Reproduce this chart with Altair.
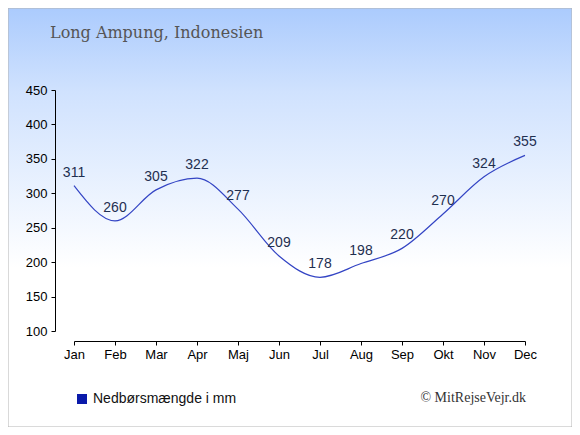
import altair as alt
import pandas as pd

months = ["Jan", "Feb", "Mar", "Apr", "Maj", "Jun", "Jul", "Aug", "Sep", "Okt", "Nov", "Dec"]
rain = [311, 260, 305, 322, 277, 209, 178, 198, 220, 270, 324, 355]
yticks = [100, 150, 200, 250, 300, 350, 400, 450]

df = pd.DataFrame({"month": months, "rain": rain})

W, H = 451, 241
PL, PT = 66, 82
TOTW, TOTH = 564, 419
PR = TOTW - PL - W
PB = TOTH - PT - H

x = alt.X("month:N", sort=months, scale=alt.Scale(type="point", padding=0),
          axis=alt.Axis(title=None, labelAngle=0, offset=10, tickSize=4, labelPadding=3,
                        labelFont="Liberation Sans", labelFontSize=13, labelColor="#000",
                        labelOverlap=False,
                        domainColor="#000", tickColor="#000", grid=False, zindex=1))
y = alt.Y("rain:Q", scale=alt.Scale(domain=[100, 450], nice=False, zero=False),
          axis=alt.Axis(title=None, values=yticks,
                        offset=19, tickSize=4, labelPadding=4, labelOverlap=False,
                        labelFont="Liberation Sans", labelFontSize=13, labelColor="#000",
                        domainColor="#000", tickColor="#000", grid=False, zindex=1))

bg = alt.Chart(pd.DataFrame({"a": [0]})).mark_rect(
    fill=alt.Gradient(gradient="linear", x1=0, y1=0, x2=0, y2=1,
                      stops=[alt.GradientStop(offset=0, color="#abcbfd"),
                             alt.GradientStop(offset=0.2, color="#d0e2fe"),
                             alt.GradientStop(offset=0.62, color="#ffffff"),
                             alt.GradientStop(offset=1, color="#ffffff")]),
    stroke="#b4b4b4", strokeWidth=1
).encode(x=alt.value(-PL), x2=alt.value(W + PR), y=alt.value(-PT), y2=alt.value(H + PB))

line = alt.Chart(df).mark_line(interpolate="monotone", color="#3344c4", strokeWidth=1.2).encode(x=x, y=y)

labels = alt.Chart(df).mark_text(baseline="bottom", dy=-6, font="Liberation Sans", fontSize=14,
                                 color="#1f2f50").encode(x=x, y=y, text="rain:Q")

title = alt.Chart(pd.DataFrame({"t": ["Long Ampung, Indonesien"]})).mark_text(
    align="left", baseline="alphabetic", font="DejaVu Serif", fontSize=16, color="#555555"
).encode(x=alt.value(50 - 8 - PL), y=alt.value(38 - 8 - PT), text="t:N")

leg_sq = alt.Chart(pd.DataFrame({"a": [0]})).mark_rect(color="#0a1aaa").encode(
    x=alt.value(77 - 8 - PL), x2=alt.value(87 - 8 - PL),
    y=alt.value(394 - 8 - PT), y2=alt.value(404 - 8 - PT))

leg_txt = alt.Chart(pd.DataFrame({"t": ["Nedbørsmængde i mm"]})).mark_text(
    align="left", baseline="middle", font="Liberation Sans", fontSize=14, color="#111111"
).encode(x=alt.value(93 - 8 - PL), y=alt.value(399 - 8 - PT), text="t:N")

copy = alt.Chart(pd.DataFrame({"t": ["© MitRejseVejr.dk"]})).mark_text(
    align="right", baseline="middle", font="Liberation Serif", fontSize=14, color="#333333"
).encode(x=alt.value(526 - 8 - PL), y=alt.value(398 - 8 - PT), text="t:N")

chart = alt.layer(bg, line, labels, title, leg_sq, leg_txt, copy).properties(
    width=W, height=H,
    padding={"left": PL, "top": PT, "right": PR, "bottom": PB},
    autosize=alt.AutoSizeParams(type="none")
).configure_view(stroke=None).configure(background="#ffffff")

chart.save("out.html", embed_options={"renderer": "svg", "actions": False})
